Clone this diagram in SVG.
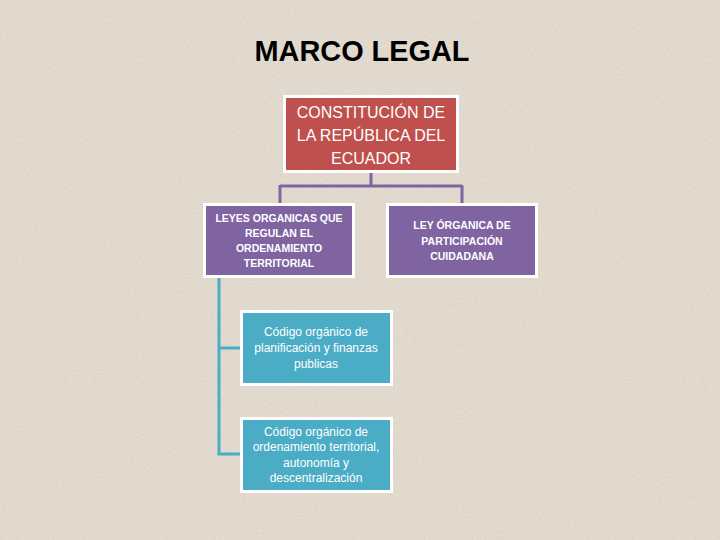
<svg xmlns="http://www.w3.org/2000/svg" width="720" height="540" viewBox="0 0 720 540">
<defs>
<filter id="grain" x="0" y="0" width="100%" height="100%">
<feTurbulence type="fractalNoise" baseFrequency="0.9" numOctaves="2" seed="3" result="n"/>
<feColorMatrix type="matrix" values="0 0 0 0 0.45  0 0 0 0 0.40  0 0 0 0 0.33  0 0 0 1.4 -0.55"/>
</filter>
</defs>
<style>
.box{stroke:#ffffff;stroke-width:3}
.red{fill:#C0504D}
.pur{fill:#8064A2}
.teal{fill:#4BACC6}
.lbl{fill:#ffffff;font-family:"Liberation Sans","DejaVu Sans",sans-serif;text-anchor:middle}
.big{font-size:16px}
.sm{font-size:10.5px;font-weight:bold}
.tl{font-size:12px}
.cp{fill:none;stroke:#8064A2;stroke-width:3}
.ct{fill:none;stroke:#4BACC6;stroke-width:3}
</style>
<rect width="720" height="540" fill="#E5DCD1"/>
<rect width="720" height="540" filter="url(#grain)" opacity="0.35"/>
<text x="362" y="61" font-family="'Liberation Sans','DejaVu Sans',sans-serif" font-size="30" font-weight="bold" fill="#000000" text-anchor="middle" textLength="215" lengthAdjust="spacingAndGlyphs">MARCO LEGAL</text>
<g id="connectors">
<path class="cp" d="M371 171 V186 M280 186 H462 M280 185 V204 M462 185 V204"/>
<path class="ct" d="M219 277 V454 M217.5 348 H241 M217.5 454 H241"/>
</g>
<g id="constitucion">
<rect class="box red" x="284.5" y="96.5" width="173" height="75"/>
<text class="lbl big" x="371" y="118">CONSTITUCIÓN DE</text>
<text class="lbl big" x="371" y="141">LA REPÚBLICA DEL</text>
<text class="lbl big" x="371" y="164">ECUADOR</text>
</g>
<g id="leyes-organicas">
<rect class="box pur" x="204.5" y="204.5" width="149" height="72"/>
<text class="lbl sm" x="279" y="222">LEYES ORGANICAS QUE</text>
<text class="lbl sm" x="279" y="237">REGULAN EL</text>
<text class="lbl sm" x="279" y="252">ORDENAMIENTO</text>
<text class="lbl sm" x="279" y="267">TERRITORIAL</text>
</g>
<g id="ley-participacion">
<rect class="box pur" x="387.5" y="204.5" width="149" height="72"/>
<text class="lbl sm" x="462" y="229">LEY ÓRGANICA DE</text>
<text class="lbl sm" x="462" y="245">PARTICIPACIÓN</text>
<text class="lbl sm" x="462" y="260">CUIDADANA</text>
</g>
<g id="codigo-planificacion">
<rect class="box teal" x="241.5" y="311.5" width="150" height="73"/>
<text class="lbl tl" x="316" y="336">Código orgánico de</text>
<text class="lbl tl" x="316" y="352">planificación y finanzas</text>
<text class="lbl tl" x="316" y="368">publicas</text>
</g>
<g id="codigo-ordenamiento">
<rect class="box teal" x="241.5" y="418.5" width="150" height="73"/>
<text class="lbl tl" x="316" y="436">Código orgánico de</text>
<text class="lbl tl" x="316" y="451">ordenamiento territorial,</text>
<text class="lbl tl" x="316" y="467">autonomía y</text>
<text class="lbl tl" x="316" y="482">descentralización</text>
</g>
</svg>
